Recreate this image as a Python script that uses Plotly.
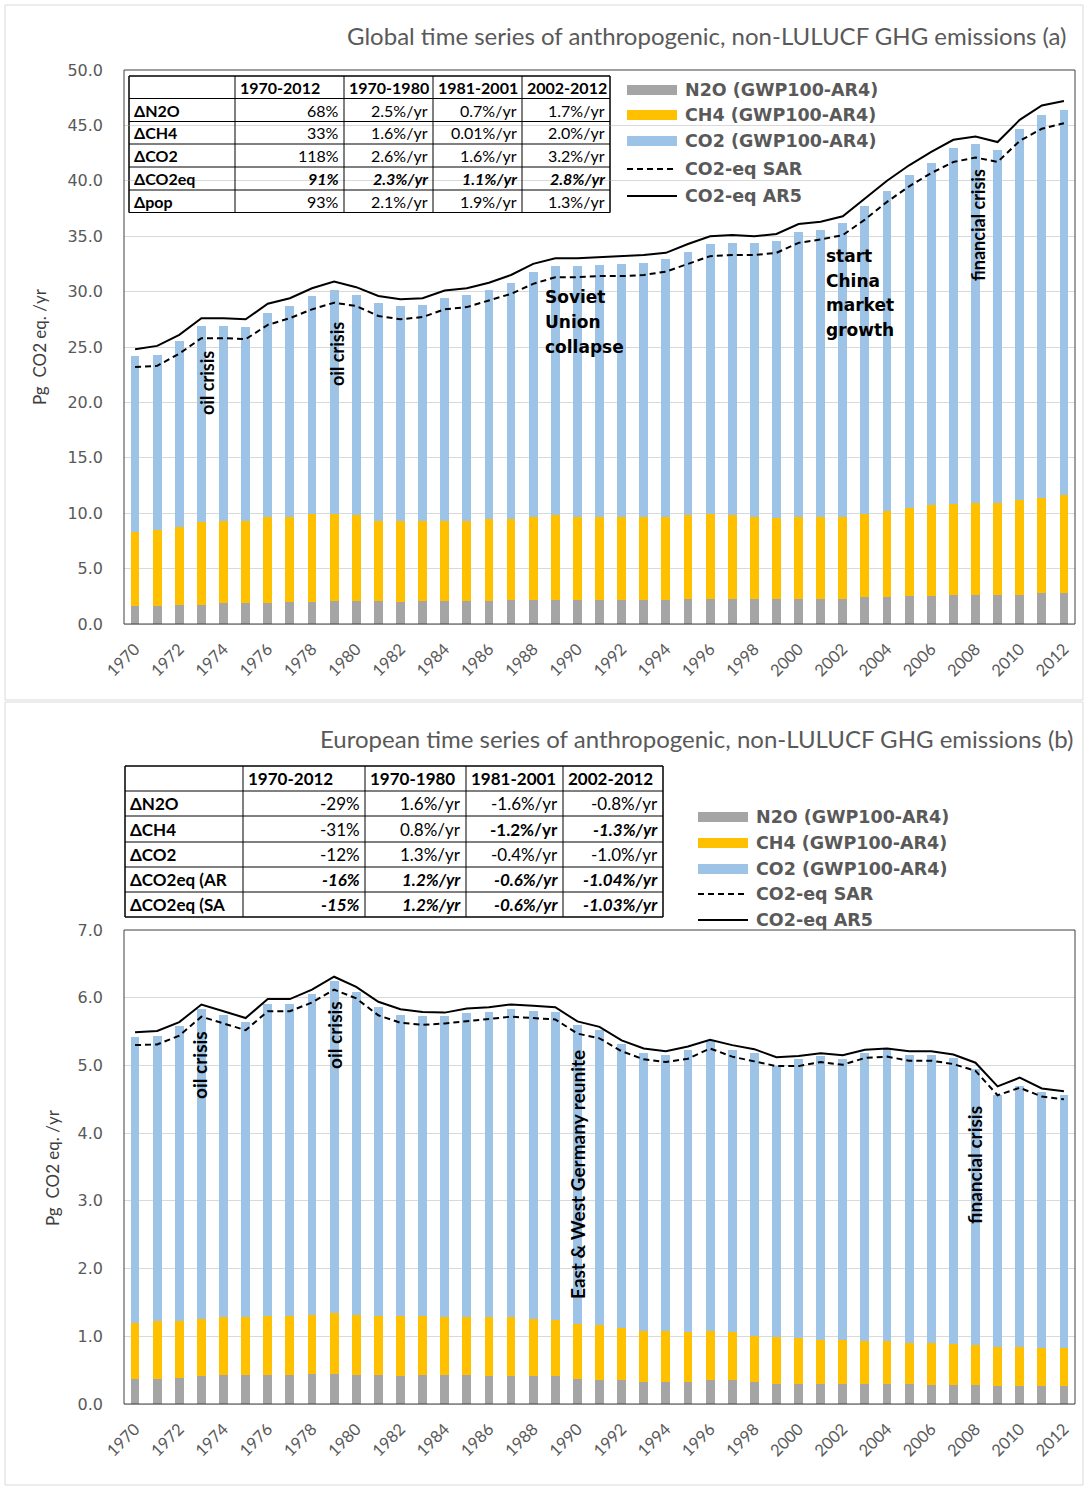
import plotly.graph_objects as go

# ---------------- data ----------------
years = list(range(1970, 2013))

glob_n2o = [1.65, 1.65, 1.75, 1.75, 1.9, 1.9, 1.9, 2.0, 2.0, 2.1, 2.1, 2.1, 2.0, 2.1, 2.1, 2.1, 2.1, 2.2, 2.2, 2.2,
            2.2, 2.2, 2.2, 2.2, 2.2, 2.3, 2.3, 2.3, 2.3, 2.3, 2.3, 2.3, 2.3, 2.4, 2.4, 2.5, 2.5, 2.65, 2.65, 2.65,
            2.65, 2.8, 2.8]
glob_ch4 = [6.65, 6.85, 7.05, 7.45, 7.4, 7.4, 7.8, 7.7, 7.9, 7.8, 7.7, 7.2, 7.3, 7.2, 7.2, 7.2, 7.4, 7.3, 7.5, 7.6,
            7.5, 7.45, 7.45, 7.45, 7.45, 7.5, 7.6, 7.5, 7.35, 7.3, 7.35, 7.35, 7.35, 7.5, 7.8, 8.0, 8.2, 8.15, 8.25, 8.25,
            8.55, 8.6, 8.8]
glob_co2 = [15.9, 15.8, 16.7, 17.7, 17.6, 17.5, 18.4, 19.0, 19.7, 20.2, 19.9, 19.7, 19.4, 19.5, 20.1, 20.4, 20.6,
            21.3, 22.1, 22.5, 22.6, 22.75, 22.85, 22.95, 23.25, 23.8, 24.4, 24.6, 24.75, 25.0, 25.75, 25.95, 26.55,
            27.8, 28.9, 30.0, 30.9, 32.2, 32.4, 31.9, 33.5, 34.5, 34.8]
glob_ar5 = [24.8, 25.1, 26.1, 27.6, 27.6, 27.5, 28.9, 29.4, 30.3, 30.9, 30.4, 29.6, 29.3, 29.4, 30.1, 30.3, 30.8,
            31.5, 32.5, 33.0, 33.0, 33.1, 33.2, 33.3, 33.5, 34.3, 35.0, 35.1, 35.0, 35.2, 36.1, 36.3, 36.8, 38.4,
            40.0, 41.4, 42.6, 43.7, 44.0, 43.5, 45.5, 46.8, 47.2]
glob_sar = [23.2, 23.3, 24.4, 25.8, 25.8, 25.7, 27.0, 27.6, 28.4, 29.0, 28.7, 27.8, 27.5, 27.7, 28.4, 28.6, 29.2,
            29.8, 30.7, 31.3, 31.3, 31.4, 31.4, 31.5, 31.8, 32.5, 33.2, 33.3, 33.3, 33.5, 34.4, 34.7, 35.1, 36.5,
            38.1, 39.5, 40.7, 41.7, 42.1, 41.7, 43.6, 44.7, 45.2]

eu_n2o = [0.37, 0.37, 0.39, 0.41, 0.43, 0.43, 0.43, 0.43, 0.45, 0.45, 0.43, 0.43, 0.41, 0.43, 0.43, 0.43, 0.41,
          0.41, 0.41, 0.41, 0.37, 0.35, 0.35, 0.33, 0.33, 0.33, 0.35, 0.35, 0.32, 0.30, 0.30, 0.30, 0.30, 0.30,
          0.30, 0.30, 0.28, 0.28, 0.28, 0.26, 0.26, 0.26, 0.26]
eu_ch4 = [0.83, 0.85, 0.83, 0.85, 0.85, 0.85, 0.87, 0.87, 0.87, 0.89, 0.89, 0.87, 0.89, 0.87, 0.85, 0.85, 0.87,
          0.87, 0.85, 0.83, 0.81, 0.81, 0.77, 0.75, 0.75, 0.73, 0.73, 0.71, 0.68, 0.69, 0.67, 0.65, 0.65, 0.63,
          0.63, 0.60, 0.62, 0.61, 0.59, 0.58, 0.58, 0.57, 0.57]
eu_co2 = [4.22, 4.21, 4.36, 4.58, 4.47, 4.36, 4.61, 4.61, 4.73, 4.91, 4.77, 4.57, 4.45, 4.43, 4.45, 4.50, 4.51,
          4.55, 4.55, 4.55, 4.42, 4.36, 4.20, 4.10, 4.08, 4.17, 4.28, 4.17, 4.18, 4.00, 4.12, 4.19, 4.15, 4.25,
          4.31, 4.26, 4.26, 4.22, 4.07, 3.73, 3.85, 3.78, 3.74]
eu_ar5 = [5.49, 5.51, 5.64, 5.90, 5.80, 5.70, 5.98, 5.98, 6.12, 6.31, 6.16, 5.94, 5.83, 5.79, 5.78, 5.84, 5.86,
          5.90, 5.88, 5.86, 5.65, 5.57, 5.37, 5.25, 5.21, 5.28, 5.38, 5.30, 5.24, 5.12, 5.14, 5.18, 5.15, 5.23,
          5.25, 5.21, 5.21, 5.16, 5.04, 4.69, 4.82, 4.66, 4.62]
eu_sar = [5.30, 5.31, 5.44, 5.72, 5.62, 5.52, 5.80, 5.80, 5.93, 6.12, 5.99, 5.74, 5.63, 5.60, 5.62, 5.65, 5.68,
          5.72, 5.70, 5.68, 5.47, 5.40, 5.21, 5.09, 5.05, 5.10, 5.25, 5.13, 5.06, 4.99, 4.99, 5.05, 5.01, 5.11,
          5.13, 5.07, 5.07, 5.02, 4.92, 4.56, 4.67, 4.54, 4.50]

tick_years = years[::2]
tick_labels = [str(y) for y in tick_years]

series_names = ["N2O (GWP100-AR4)", "CH4 (GWP100-AR4)", "CO2 (GWP100-AR4)", "CO2-eq SAR", "CO2-eq AR5"]

title_a = "Global time series of anthropogenic, non-LULUCF GHG emissions (a)"
title_b = "European time series of anthropogenic, non-LULUCF GHG emissions (b)"
y_title = "Pg  CO2 eq. /yr"

tbl_head = ["1970-2012", "1970-1980", "1981-2001", "2002-2012"]
tbl_a_rows = ["ΔN2O", "ΔCH4", "ΔCO2", "ΔCO2eq", "Δpop"]
tbl_a_vals = [["68%", "2.5%/yr", "0.7%/yr", "1.7%/yr"],
              ["33%", "1.6%/yr", "0.01%/yr", "2.0%/yr"],
              ["118%", "2.6%/yr", "1.6%/yr", "3.2%/yr"],
              ["91%", "2.3%/yr", "1.1%/yr", "2.8%/yr"],
              ["93%", "2.1%/yr", "1.9%/yr", "1.3%/yr"]]
tbl_b_rows = ["ΔN2O", "ΔCH4", "ΔCO2", "ΔCO2eq (AR", "ΔCO2eq (SA"]
tbl_b_vals = [["-29%", "1.6%/yr", "-1.6%/yr", "-0.8%/yr"],
              ["-31%", "0.8%/yr", "-1.2%/yr", "-1.3%/yr"],
              ["-12%", "1.3%/yr", "-0.4%/yr", "-1.0%/yr"],
              ["-16%", "1.2%/yr", "-0.6%/yr", "-1.04%/yr"],
              ["-15%", "1.2%/yr", "-0.6%/yr", "-1.03%/yr"]]

# styles: n = normal, b = bold, bi = bold italic
tbl_a_style = [["n"] * 4, ["n"] * 4, ["n"] * 4, ["bi"] * 4, ["n"] * 4]
tbl_b_style = [["n"] * 4, ["n", "n", "b", "bi"], ["n"] * 4, ["bi"] * 4, ["bi"] * 4]

event_soviet = ["Soviet", "Union", "collapse"]
event_china = ["start", "China", "market", "growth"]

# ---------------- layout helpers ----------------
W, H = 1084, 1486
def X(px): return px / W
def Y(py): return 1 - py / H

C_N2O, C_CH4, C_CO2 = "#a5a5a5", "#ffc000", "#9dc3e6"
GREY = "#595959"
CAL = "Lato"
VER = "DejaVu Sans"

shapes, annots = [], []

def rect(x0, y0, x1, y1, line="#d9d9d9", fill=None, width=1, layer="above"):
    shapes.append(dict(type="rect", xref="paper", yref="paper", x0=X(x0), x1=X(x1), y0=Y(y1), y1=Y(y0),
                       line=dict(color=line, width=width), fillcolor=fill, layer=layer))

def hline(x0, x1, y, color="black", width=1, dash="solid", layer="above"):
    shapes.append(dict(type="line", xref="paper", yref="paper", x0=X(x0), x1=X(x1), y0=Y(y), y1=Y(y),
                       line=dict(color=color, width=width, dash=dash), layer=layer))

def vline(x, y0, y1, color="black", width=1):
    shapes.append(dict(type="line", xref="paper", yref="paper", x0=X(x), x1=X(x), y0=Y(y0), y1=Y(y1),
                       line=dict(color=color, width=width), layer="above"))

def text(x, y, t, size=16, family=CAL, color="black", xanchor="left", weight="normal", style="normal", angle=0,
         yanchor="middle", align="left"):
    annots.append(dict(xref="paper", yref="paper", x=X(x), y=Y(y), text=t, showarrow=False, xanchor=xanchor,
                       yanchor=yanchor, textangle=angle, align=align,
                       font=dict(family=family, size=size, color=color, weight=weight, style=style)))

# panel frames
rect(5, 5, 1083, 700)
rect(5, 702, 1083, 1485)

# plot area borders
rect(124, 70, 1075, 624, line="#404040", layer="above")
rect(124, 930, 1075, 1404, line="#404040", layer="above")

# titles
text(1068, 35, title_a, size=24, color=GREY, xanchor="right")
text(1075, 739, title_b, size=24, color=GREY, xanchor="right")
text(40, 347, y_title, size=17, color="#404040", xanchor="center", angle=-90)
text(52, 1168, y_title, size=17, color="#404040", xanchor="center", angle=-90)

# tables
def draw_table(xs, ys, head, rows, vals, styles, size):
    rect(xs[0], ys[0], xs[-1], ys[-1], line="black", fill="white", layer="between")
    for y in ys:
        hline(xs[0], xs[-1], y)
    for x in xs:
        vline(x, ys[0], ys[-1])
    for j, h in enumerate(head):
        text(xs[j + 1] + 3, (ys[0] + ys[1]) / 2, h, size=size, weight="bold")
    for i, r in enumerate(rows):
        yc = (ys[i + 1] + ys[i + 2]) / 2
        text(xs[0] + 3, yc, r, size=size, weight="bold")
        for j, v in enumerate(vals[i]):
            s = styles[i][j]
            text(xs[j + 2] - 3, yc, v, size=size, xanchor="right",
                 weight="bold" if s in ("b", "bi") else "normal",
                 style="italic" if s == "bi" else "normal")

draw_table([129, 235, 344, 433, 522, 610], [76, 98.5, 121.5, 144, 167, 190, 212.5],
           tbl_head, tbl_a_rows, tbl_a_vals, tbl_a_style, 16)
draw_table([125, 243, 365, 466, 563, 663], [766, 791, 816, 842, 867, 892, 917],
           tbl_head, tbl_b_rows, tbl_b_vals, tbl_b_style, 17)

# custom legends
def draw_legend(x0, x1, tx, ys, bg):
    if bg:
        rect(x0 - 4, ys[0] - 12, tx + 200, ys[-1] + 11, line="rgba(0,0,0,0)", fill="white", layer="between")
    cols = [C_N2O, C_CH4, C_CO2]
    for k in range(3):
        rect(x0, ys[k] - 5, x1, ys[k] + 5, line="rgba(0,0,0,0)", fill=cols[k], width=0)
    hline(x0, x1, ys[3], width=2, dash="6px,4px")
    hline(x0, x1, ys[4], width=2)
    for k, nm in enumerate(series_names):
        text(tx, ys[k], nm, size=17.5, family=VER, color=GREY, weight="bold")

draw_legend(627, 677, 683, [90, 115, 141, 169, 196], True)
draw_legend(698, 748, 754, [817, 843, 869, 894, 920], False)

# event annotations
text(207, 383, "oil crisis", size=18, angle=-90, xanchor="center", weight="bold")
text(337, 354, "oil crisis", size=18, angle=-90, xanchor="center", weight="bold")
text(978, 225, "financial crisis", size=18, angle=-90, xanchor="center", weight="bold")
for k, ln in enumerate(event_soviet):
    text(543, 297 + 25 * k, ln, size=17, family=VER, weight="bold")
for k, ln in enumerate(event_china):
    text(824, 256 + 24.7 * k, ln, size=17, family=VER, weight="bold")
text(199, 1065, "oil crisis", size=19, angle=-90, xanchor="center", weight="bold")
text(334, 1035, "oil crisis", size=19, angle=-90, xanchor="center", weight="bold")
text(577, 1175, "East & West Germany reunite", size=19, angle=-90, xanchor="center", weight="bold")
text(974, 1165, "financial crisis", size=19, angle=-90, xanchor="center", weight="bold")

# ---------------- traces ----------------
fig = go.Figure()
def add_panel(n2o, ch4, co2, sar, ar5, xa, ya):
    for vals, col, nm in [(n2o, C_N2O, series_names[0]), (ch4, C_CH4, series_names[1]), (co2, C_CO2, series_names[2])]:
        fig.add_trace(go.Bar(x=years, y=vals, marker=dict(color=col, line=dict(width=0)), name=nm,
                             xaxis=xa, yaxis=ya, showlegend=False))
    fig.add_trace(go.Scatter(x=years, y=sar, mode="lines", line=dict(color="black", width=2, dash="6px,4px"),
                             name=series_names[3], xaxis=xa, yaxis=ya, showlegend=False))
    fig.add_trace(go.Scatter(x=years, y=ar5, mode="lines", line=dict(color="black", width=2),
                             name=series_names[4], xaxis=xa, yaxis=ya, showlegend=False))

add_panel(glob_n2o, glob_ch4, glob_co2, glob_sar, glob_ar5, "x", "y")
add_panel(eu_n2o, eu_ch4, eu_co2, eu_sar, eu_ar5, "x2", "y2")

xcommon = dict(range=[1969.5, 2012.5], tickvals=tick_years, ticktext=tick_labels, tickangle=-45,
               tickfont=dict(family=CAL, size=16.5, color=GREY), showgrid=False, showline=True,
               linecolor="#d9d9d9", zeroline=False, ticks="", ticklabelstandoff=8, domain=[X(124), X(1075)],
               automargin=False)
ycommon = dict(tickformat=".1f", tickfont=dict(family=VER, size=16, color=GREY), showgrid=True,
               gridcolor="#d9d9d9", gridwidth=1, zeroline=False, showline=False, ticks="",
               ticklabelstandoff=20, automargin=False)

fig.update_layout(
    width=W, height=H, margin=dict(l=0, r=0, t=0, b=0, pad=0), autosize=False,
    paper_bgcolor="white", plot_bgcolor="white",
    barmode="stack", bargap=0.6, showlegend=False,
    xaxis=dict(**xcommon, anchor="y"),
    yaxis=dict(**ycommon, range=[0, 50], dtick=5, domain=[Y(624), Y(70)], anchor="x"),
    xaxis2=dict(**xcommon, anchor="y2"),
    yaxis2=dict(**ycommon, range=[0, 7], dtick=1, domain=[Y(1404), Y(930)], anchor="x2"),
    shapes=shapes, annotations=annots,
)

fig.write_html("out.html", config={"displayModeBar": False},
               post_script="document.body.style.margin='0';document.body.style.overflow='hidden';")
